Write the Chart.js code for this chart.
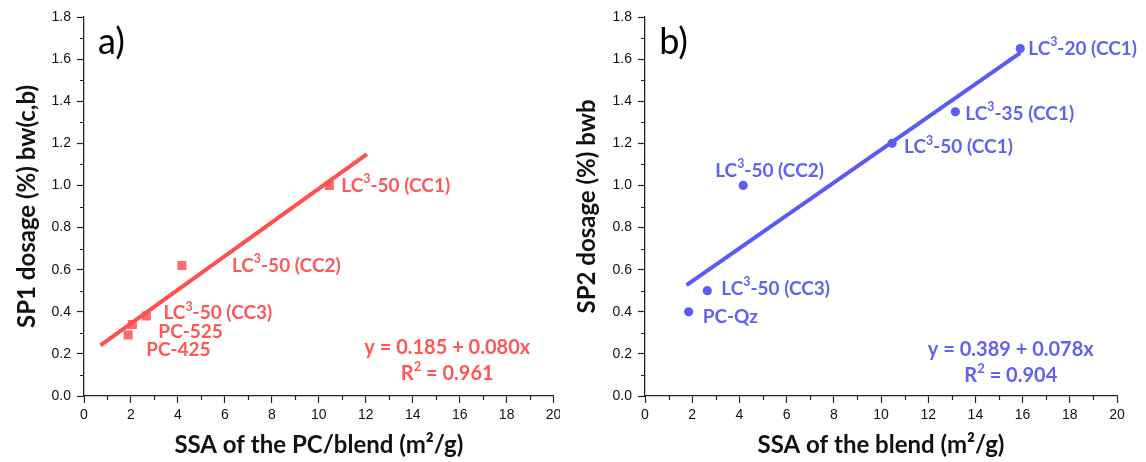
<!DOCTYPE html>
<html>
<head>
<meta charset="utf-8">
<script src="https://cdn.jsdelivr.net/npm/chart.js@4"></script>
<style>
  body { margin: 0; background: #fff; }
  #wrap { position: relative; width: 1146px; height: 462px; }
  .panel { position: absolute; top: 0; height: 462px; }
</style>
</head>
<body>
<div id="wrap">
  <div class="panel" style="left:0;width:560px"><canvas id="chartA"></canvas></div>
  <div class="panel" style="left:560px;width:586px"><canvas id="chartB"></canvas></div>
</div>
<script>
// a) SP1 dosage vs SSA of the PC/blend
const ssaA = [10.45, 4.17, 2.66, 2.06, 1.88];
const sp1Dosage = [1.0, 0.62, 0.38, 0.34, 0.29];
const namesA = ['LC³-50 (CC1)', 'LC³-50 (CC2)', 'LC³-50 (CC3)', 'PC-525', 'PC-425'];
const fitA = [0.185, 0.080];      // intercept, slope
const fitSpanA = [0.7, 12.05];
const r2A = '0.961';

// b) SP2 dosage vs SSA of the blend
const ssaB = [15.9, 13.15, 10.47, 4.16, 2.64, 1.85];
const sp2Dosage = [1.65, 1.35, 1.2, 1.0, 0.5, 0.4];
const namesB = ['LC³-20 (CC1)', 'LC³-35 (CC1)', 'LC³-50 (CC1)', 'LC³-50 (CC2)', 'LC³-50 (CC3)', 'PC-Qz'];
const fitB = [0.389, 0.078];
const fitSpanB = [1.76, 15.9];
const r2B = '0.904';

const labelFont = 'Lato, "Open Sans", sans-serif';
const tickFont = '"Liberation Sans", Arial, sans-serif';

// text with superscript ² / ³ drawn as small raised digits
function drawRich(ctx, text, x, y, size, weight, align) {
  const parts = [];
  for (const ch of text) {
    const sup = ch === '²' ? '2' : ch === '³' ? '3' : null;
    const last = parts[parts.length - 1];
    if (sup) parts.push({ t: sup, sup: true });
    else if (last && !last.sup) last.t += ch;
    else parts.push({ t: ch, sup: false });
  }
  const fontOf = p => `${weight} ${p.sup ? size * 0.65 : size}px ${labelFont}`;
  let w = 0;
  parts.forEach(p => { ctx.font = fontOf(p); p.w = ctx.measureText(p.t).width; w += p.w; });
  let cx = align === 'center' ? x - w / 2 : x;
  ctx.textAlign = 'left';
  ctx.textBaseline = 'middle';
  parts.forEach(p => {
    ctx.font = fontOf(p);
    ctx.fillText(p.t, cx, p.sup ? y - size * 0.33 : y);
    cx += p.w;
  });
}

const minorTicks = {
  id: 'minorTicks',
  afterDraw(chart) {
    const { ctx, scales: { x, y }, chartArea: a } = chart;
    ctx.save();
    ctx.strokeStyle = '#222';
    ctx.lineWidth = 1.2;
    ctx.beginPath();
    for (let v = 1; v < 20; v += 2) {
      const px = Math.round(x.getPixelForValue(v)) + 0.5;
      ctx.moveTo(px, a.bottom); ctx.lineTo(px, a.bottom + 4);
    }
    for (let i = 1; i < 18; i += 2) {
      const py = Math.round(y.getPixelForValue(i / 10)) + 0.5;
      ctx.moveTo(a.left, py); ctx.lineTo(a.left - 4, py);
    }
    ctx.stroke();
    ctx.restore();
  }
};

const annotations = {
  id: 'annotations',
  afterDatasetsDraw(chart, args, opts) {
    const { ctx, scales: { x, y } } = chart;
    const meta = chart.getDatasetMeta(1);
    ctx.save();
    ctx.fillStyle = opts.color;
    opts.names.forEach((name, i) => {
      const pt = meta.data[i];
      const [dx, dy] = opts.offsets[i];
      drawRich(ctx, name, pt.x + dx, pt.y + dy, 19, 'bold', 'left');
    });
    const ex = x.getPixelForValue(opts.eqAt[0]);
    drawRich(ctx, opts.equation[0], ex, y.getPixelForValue(opts.eqAt[1]), 20, 'bold', 'center');
    drawRich(ctx, opts.equation[1], ex, y.getPixelForValue(opts.eqAt[2]), 20, 'bold', 'center');
    ctx.fillStyle = '#000';
    ctx.font = `36px ${labelFont}`;
    ctx.textAlign = 'left';
    ctx.textBaseline = 'middle';
    ctx.fillText(opts.tag, x.getPixelForValue(0.6), y.getPixelForValue(1.68));
    ctx.restore();
  }
};

function makeScales(xTitle, yTitle, yWidth) {
  return {
    x: {
      type: 'linear', min: 0, max: 20,
      ticks: { stepSize: 2, color: '#111', font: { family: tickFont, size: 14 }, padding: 4, maxRotation: 0 },
      grid: { drawOnChartArea: false, drawTicks: true, tickLength: 7, color: '#222', tickWidth: 1.2 },
      border: { display: true, color: '#222', width: 1.3 },
      title: { display: true, text: xTitle, color: '#111', font: { family: labelFont, weight: 'bold', size: 24 }, padding: { bottom: 2 } },
      afterFit(s) { s.height = 66; s.paddingLeft = 0; s.paddingRight = 0; }
    },
    y: {
      type: 'linear', min: 0, max: 1.8,
      ticks: { stepSize: 0.2, color: '#111', font: { family: tickFont, size: 14 }, padding: 6, callback: v => v.toFixed(1) },
      grid: { drawOnChartArea: false, drawTicks: true, tickLength: 7, color: '#222', tickWidth: 1.2 },
      border: { display: true, color: '#222', width: 1.3 },
      title: { display: true, text: yTitle, color: '#111', font: { family: labelFont, weight: 'bold', size: 24 }, padding: { top: 13 } },
      afterFit(s) { s.width = yWidth; s.paddingTop = 0; s.paddingBottom = 0; }
    }
  };
}

function makeChart(id, cfg) {
  const line = cfg.fitSpan.map(v => ({ x: v, y: cfg.fit[0] + cfg.fit[1] * v }));
  const pts = cfg.xs.map((v, i) => ({ x: v, y: cfg.ys[i] }));
  return new Chart(document.getElementById(id), {
    type: 'scatter',
    data: {
      datasets: [
        { type: 'line', data: line, borderColor: cfg.lineColor, borderWidth: 4, pointRadius: 0, order: 0 },
        { data: pts, pointStyle: cfg.marker, pointRadius: cfg.markerSize, backgroundColor: cfg.pointColor, borderWidth: 0, order: 1 }
      ]
    },
    options: {
      responsive: true,
      maintainAspectRatio: false,
      animation: false,
      devicePixelRatio: 1,
      layout: { padding: { left: 0, top: 17, right: cfg.padRight, bottom: 0 } },
      plugins: {
        legend: { display: false },
        tooltip: { enabled: false },
        annotations: {
          names: cfg.names, offsets: cfg.offsets, color: cfg.textColor, tag: cfg.tag,
          equation: [`y = ${cfg.fit[0].toFixed(3)} + ${cfg.fit[1].toFixed(3)}x`, `R² = ${cfg.r2}`],
          eqAt: cfg.eqAt
        }
      },
      scales: makeScales(cfg.xTitle, cfg.yTitle, cfg.yWidth)
    },
    plugins: [minorTicks, annotations]
  });
}

makeChart('chartA', {
  xs: ssaA, ys: sp1Dosage, names: namesA, fit: fitA, fitSpan: fitSpanA, r2: r2A,
  offsets: [[12, 0], [50, 0], [17, -3], [26, 7], [18, 15]],
  eqAt: [15.47, 0.231, 0.108],
  marker: 'rect', markerSize: 6.4,
  lineColor: '#ff4f4f', pointColor: '#ff6b6b', textColor: '#ff5757',
  tag: 'a)', xTitle: 'SSA of the PC/blend (m²/g)', yTitle: 'SP1 dosage (%) bw(c,b)',
  yWidth: 84, padRight: 4
});

makeChart('chartB', {
  xs: ssaB, ys: sp2Dosage, names: namesB, fit: fitB, fitSpan: fitSpanB, r2: r2B,
  offsets: [[8, 0], [10, 2], [12, 4], [-28, -15], [14, -2], [14, 5]],
  eqAt: [15.5, 0.222, 0.096],
  marker: 'circle', markerSize: 4.6,
  lineColor: '#5a5af5', pointColor: '#5b5bf5', textColor: '#6262f0',
  tag: 'b)', xTitle: 'SSA of the blend (m²/g)', yTitle: 'SP2 dosage (%) bwb',
  yWidth: 85, padRight: 29
});
</script>
</body>
</html>
